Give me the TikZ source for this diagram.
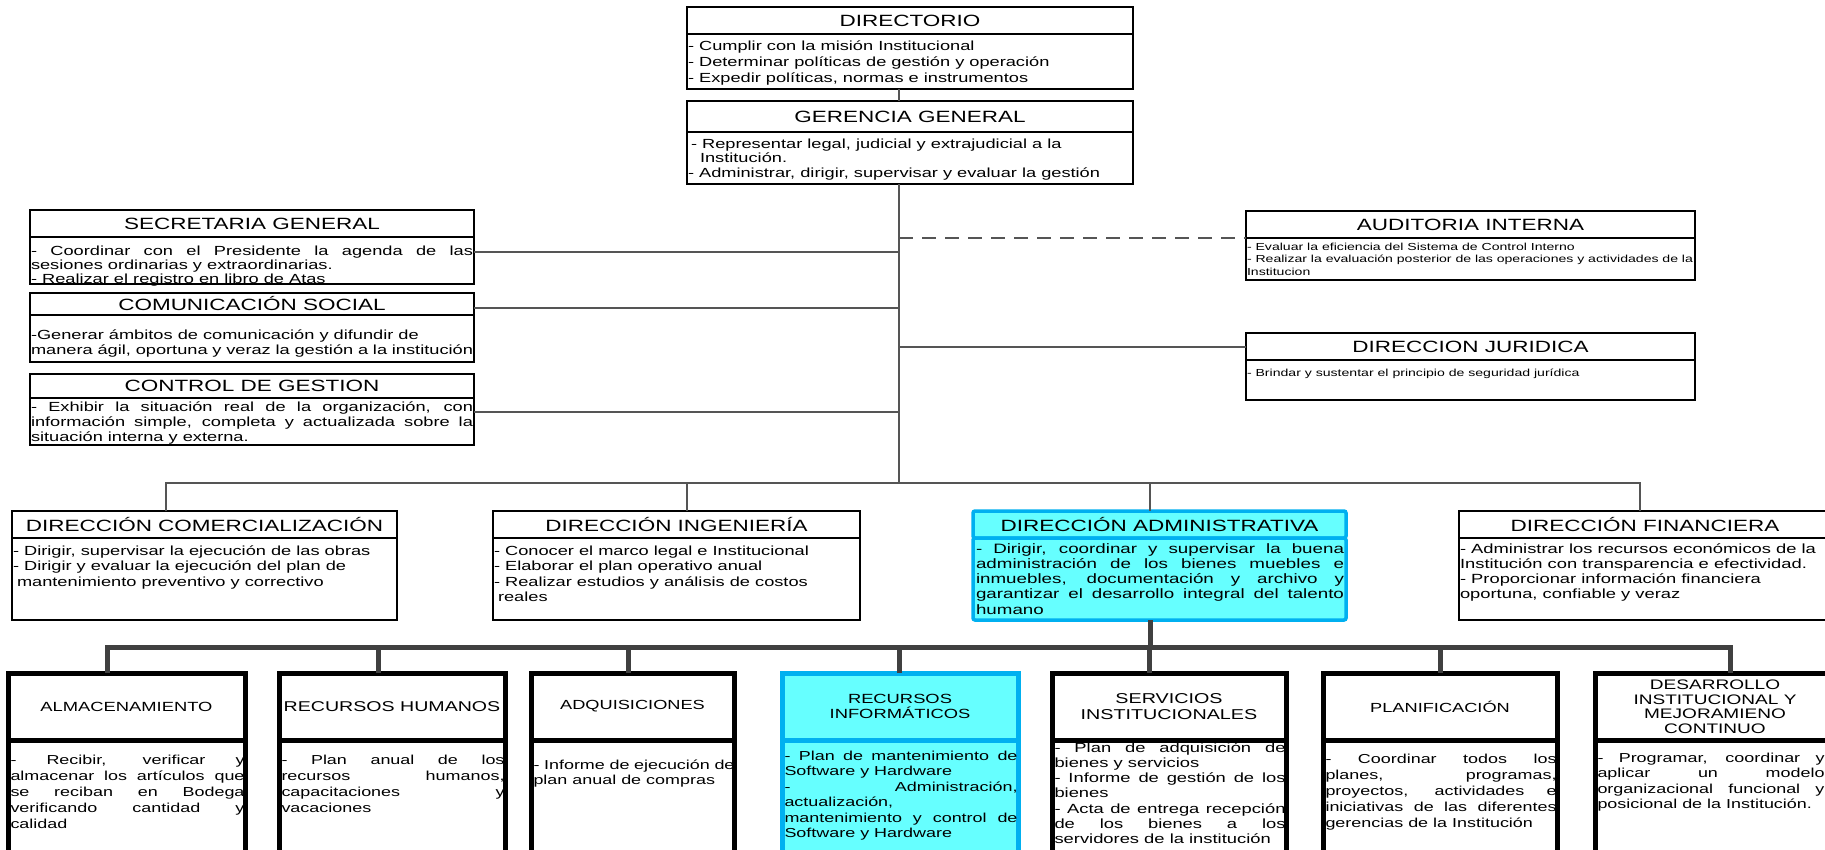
\documentclass[tikz,border=0pt]{standalone}
\usepackage{fontspec}
\setmainfont{Liberation Sans}[FakeStretch=1.38]
\usetikzlibrary{calc}
\definecolor{lineg}{HTML}{555555}
\definecolor{barc}{HTML}{404040}
\definecolor{cyanf}{HTML}{66FFFF}
\definecolor{blueb}{HTML}{00B0F0}
\newcommand\fs[2]{\fontsize{#1}{#2}\selectfont}
\newcommand\jl[1]{\hbox to\hsize{\strut#1}}
\newcommand\rl[1]{\hbox to\hsize{\strut#1\hfil}}
\newcommand\tblock[2]{\vtop{\hsize=#1pt\relax#2}}
\tikzset{
  every node/.style={inner sep=0pt, outer sep=0pt},
  frame/.style={draw=black, line width=1.1pt, fill=white, anchor=north west},
  cframe/.style={draw=blueb, line width=3.5pt, fill=cyanf, rounded corners=2pt, anchor=north west},
  bframe/.style={draw=black, line width=5pt, fill=white, anchor=north west},
  bcframe/.style={draw=blueb, line width=5pt, fill=cyanf, anchor=north west},
  ttl/.style={font=\fs{16.3}{19}},
  btl/.style={align=center},
  tx/.style={anchor=base west},
  conn/.style={draw=lineg, line width=1.6pt},
  dashconn/.style={draw=lineg, line width=1.6pt, dash pattern=on 14pt off 9pt},
  barl/.style={draw=barc, line width=5pt},
}
\begin{document}
\begin{tikzpicture}[x=1pt,y=-1pt]
\useasboundingbox (0,0) rectangle (1825,849);
\fill[white] (0,0) rectangle (1825,849);

% ---------- coordinates for connectors
\coordinate (spine) at (899,0);
\coordinate (jsec) at (899,252);
\coordinate (jcom) at (899,308);
\coordinate (jctl) at (899,412);
\coordinate (jaud) at (899,238);
\coordinate (jjur) at (899,347);
\coordinate (d1) at (166,483);
\coordinate (d2) at (687,483);
\coordinate (d3) at (1150,483);
\coordinate (d4) at (1640,483);
\coordinate (e1) at (107,647);
\coordinate (e2) at (378,647);
\coordinate (e3) at (628,647);
\coordinate (e4) at (899,647);
\coordinate (e5) at (1149,647);
\coordinate (e6) at (1440,647);
\coordinate (e7) at (1730,647);

% ---------- DIRECTORIO
\node[frame, minimum width=446pt, minimum height=27pt] (dirT) at (687,7) {};
\node[ttl] (dirL) at (dirT.center) {DIRECTORIO};
\node[frame, minimum width=446pt, minimum height=55pt] (dirB) at (687,34) {};
\node[tx, font={\fs{13.2}{16.3}}] (dirX) at (688,50) {\tblock{440}{%
\rl{- Cumplir con la misión Institucional}%
\rl{- Determinar políticas de gestión y operación}%
\rl{- Expedir políticas, normas e instrumentos}}};

% ---------- GERENCIA GENERAL
\node[frame, minimum width=446pt, minimum height=31pt] (gerT) at (687,101) {};
\node[ttl] (gerL) at (gerT.center) {GERENCIA GENERAL};
\node[frame, minimum width=446pt, minimum height=52pt] (gerB) at (687,132) {};
\node[tx, font={\fs{13.2}{14.5}}] (gerX) at (688,148) {\tblock{440}{%
\rl{\hspace{3pt}- Representar legal, judicial y extrajudicial a la}%
\rl{\hspace{12pt}Institución.}%
\rl{- Administrar, dirigir, supervisar y evaluar la gestión}}};

% ---------- SECRETARIA GENERAL
\node[frame, minimum width=444pt, minimum height=27pt] (secT) at (30,210) {};
\node[ttl] (secL) at (secT.center) {SECRETARIA GENERAL};
\node[frame, minimum width=444pt, minimum height=47pt] (secB) at (30,237) {};
\node[tx, font={\fs{13.2}{14}}] (secX) at (31,255) {\tblock{442}{%
\jl{- Coordinar con el Presidente la agenda de las}%
\rl{sesiones ordinarias y extraordinarias.}%
\rl{- Realizar el registro en libro de Atas}}};

% ---------- COMUNICACION SOCIAL
\node[frame, minimum width=444pt, minimum height=22pt] (comT) at (30,293) {};
\node[ttl] (comL) at (comT.center) {COMUNICACIÓN SOCIAL};
\node[frame, minimum width=444pt, minimum height=47pt] (comB) at (30,315) {};
\node[tx, font={\fs{13.2}{15.5}}] (comX) at (31,339) {\tblock{442}{%
\rl{-Generar ámbitos de comunicación y difundir de}%
\rl{manera ágil, oportuna y veraz la gestión a la institución}}};

% ---------- CONTROL DE GESTION
\node[frame, minimum width=444pt, minimum height=24pt] (ctlT) at (30,374) {};
\node[ttl] (ctlL) at (ctlT.center) {CONTROL DE GESTION};
\node[frame, minimum width=444pt, minimum height=47pt] (ctlB) at (30,398) {};
\node[tx, font={\fs{13.2}{15}}] (ctlX) at (31,411) {\tblock{442}{%
\jl{- Exhibir la situación real de la organización, con}%
\jl{información simple, completa y actualizada sobre la}%
\rl{situación interna y externa.}}};

% ---------- AUDITORIA INTERNA
\node[frame, minimum width=449pt, minimum height=27pt] (audT) at (1246,211) {};
\node[ttl] (audL) at (audT.center) {AUDITORIA INTERNA};
\node[frame, minimum width=449pt, minimum height=42pt] (audB) at (1246,238) {};
\node[tx, font={\fs{10.2}{12.5}}] (audX) at (1247,250) {\tblock{446}{%
\rl{- Evaluar la eficiencia del Sistema de Control Interno}%
\rl{- Realizar la evaluación posterior de las operaciones y actividades de la}%
\rl{Institucion}}};

% ---------- DIRECCION JURIDICA
\node[frame, minimum width=449pt, minimum height=27pt] (jurT) at (1246,333) {};
\node[ttl] (jurL) at (jurT.center) {DIRECCION JURIDICA};
\node[frame, minimum width=449pt, minimum height=40pt] (jurB) at (1246,360) {};
\node[tx, font={\fs{10.2}{12.5}}] (jurX) at (1247,376) {\tblock{446}{%
\rl{- Brindar y sustentar el principio de seguridad jurídica}}};

% ---------- middle row
\node[frame, minimum width=385pt, minimum height=27pt] (cmzT) at (12,511) {};
\node[ttl] (cmzL) at (cmzT.center) {DIRECCIÓN COMERCIALIZACIÓN};
\node[frame, minimum width=385pt, minimum height=82pt] (cmzB) at (12,538) {};
\node[tx, font={\fs{13.2}{15.5}}] (cmzX) at (13,555) {\tblock{380}{%
\rl{- Dirigir, supervisar la ejecución de las obras}%
\rl{- Dirigir y evaluar la ejecución del plan de}%
\rl{\hspace{4pt}mantenimiento preventivo y correctivo}}};

\node[frame, minimum width=367pt, minimum height=27pt] (ingT) at (493,511) {};
\node[ttl] (ingL) at (ingT.center) {DIRECCIÓN INGENIERÍA};
\node[frame, minimum width=367pt, minimum height=82pt] (ingB) at (493,538) {};
\node[tx, font={\fs{13.2}{15.5}}] (ingX) at (494,555) {\tblock{362}{%
\rl{- Conocer el marco legal e Institucional}%
\rl{- Elaborar el plan operativo anual}%
\rl{- Realizar estudios y análisis de costos}%
\rl{\hspace{4pt}reales}}};

\node[cframe, minimum width=373pt, minimum height=27pt] (admT) at (973,511) {};
\node[ttl] (admL) at (admT.center) {DIRECCIÓN ADMINISTRATIVA};
\node[cframe, minimum width=373pt, minimum height=82pt] (admB) at (973,538) {};
\node[tx, font={\fs{13.6}{15.3}}] (admX) at (976,553) {\tblock{368}{%
\jl{- Dirigir, coordinar y supervisar la buena}%
\jl{administración de los bienes muebles e}%
\jl{inmuebles, documentación y archivo y}%
\jl{garantizar el desarrollo integral del talento}%
\rl{humano}}};

\node[frame, minimum width=372pt, minimum height=27pt] (finT) at (1459,511) {};
\node[ttl] (finL) at (finT.center) {DIRECCIÓN FINANCIERA};
\node[frame, minimum width=372pt, minimum height=82pt] (finB) at (1459,538) {};
\node[tx, font={\fs{13.3}{15.3}}] (finX) at (1460,553) {\tblock{365}{%
\rl{- Administrar los recursos económicos de la}%
\rl{Institución con transparencia e efectividad.}%
\rl{- Proporcionar información financiera}%
\rl{oportuna, confiable y veraz}}};

% ---------- bottom row
\node[bframe, minimum width=237pt, minimum height=67pt] (almT) at (8,673) {};
\node[btl, font={\fs{13.3}{15}}] (almL) at (almT.center) {ALMACENAMIENTO};
\node[bframe, minimum width=237pt, minimum height=140pt] (almB) at (8,740) {};
\node[tx, font={\fs{13}{16}}] (almX) at (10.5,764) {\tblock{234}{%
\jl{- Recibir, verificar y}%
\jl{almacenar los artículos que}%
\jl{se reciban en Bodega}%
\jl{verificando cantidad y}%
\rl{calidad}}};

\node[bframe, minimum width=226pt, minimum height=67pt] (rhT) at (279,673) {};
\node[btl, font={\fs{14.2}{15}}] (rhL) at (rhT.center) {RECURSOS HUMANOS};
\node[bframe, minimum width=226pt, minimum height=140pt] (rhB) at (279,740) {};
\node[tx, font={\fs{13}{16}}] (rhX) at (281.5,764) {\tblock{223}{%
\jl{- Plan anual de los}%
\jl{recursos humanos,}%
\jl{capacitaciones y}%
\rl{vacaciones}}};

\node[bframe, minimum width=203pt, minimum height=67pt] (adqT) at (531,673) {};
\node[btl, font={\fs{13.2}{15}}] (adqL) at (adqT.center) {ADQUISICIONES};
\node[bframe, minimum width=203pt, minimum height=140pt] (adqB) at (531,740) {};
\node[tx, font={\fs{13}{15.5}}] (adqX) at (533.5,769) {\tblock{201}{%
\jl{- Informe de ejecución de}%
\rl{plan anual de compras}}};

\node[bcframe, minimum width=236pt, minimum height=67pt] (rinT) at (782,673) {};
\node[btl, font={\fs{13.3}{15.5}}] (rinL) at (rinT.center) {RECURSOS\\INFORMÁTICOS};
\node[bcframe, minimum width=236pt, minimum height=140pt] (rinB) at (782,740) {};
\node[tx, font={\fs{13}{15.5}}] (rinX) at (784.5,760) {\tblock{233}{%
\jl{- Plan de mantenimiento de}%
\rl{Software y Hardware}%
\jl{- Administración,}%
\rl{actualización,}%
\jl{mantenimiento y control de}%
\rl{Software y Hardware}}};

\node[bframe, minimum width=234pt, minimum height=67pt] (srvT) at (1052,673) {};
\node[btl, font={\fs{14.3}{15.5}}] (srvL) at (srvT.center) {SERVICIOS\\INSTITUCIONALES};
\node[bframe, minimum width=234pt, minimum height=140pt] (srvB) at (1052,740) {};
\node[tx, font={\fs{13.3}{15.3}}] (srvX) at (1054.5,752) {\tblock{231}{%
\jl{- Plan de adquisición de}%
\rl{bienes y servicios}%
\jl{- Informe de gestión de los}%
\rl{bienes}%
\jl{- Acta de entrega recepción}%
\jl{de los bienes a los}%
\rl{servidores de la institución}}};

\node[bframe, minimum width=234pt, minimum height=67pt] (plaT) at (1323,673) {};
\node[btl, font={\fs{13.2}{15}}] (plaL) at (plaT.center) {PLANIFICACIÓN};
\node[bframe, minimum width=234pt, minimum height=140pt] (plaB) at (1323,740) {};
\node[tx, font={\fs{13}{16.2}}] (plaX) at (1325.5,763) {\tblock{231}{%
\jl{- Coordinar todos los}%
\jl{planes, programas,}%
\jl{proyectos, actividades e}%
\jl{iniciativas de las diferentes}%
\rl{gerencias de la Institución}}};

\node[bframe, minimum width=240pt, minimum height=67pt] (desT) at (1595,673) {};
\node[btl, font={\fs{13.8}{14.5}}] (desL) at (desT.center) {DESARROLLO\\INSTITUCIONAL Y\\MEJORAMIENO\\CONTINUO};
\node[bframe, minimum width=240pt, minimum height=140pt] (desB) at (1595,740) {};
\node[tx, font={\fs{13}{15.5}}] (desX) at (1597.5,762) {\tblock{227}{%
\jl{- Programar, coordinar y}%
\jl{aplicar un modelo}%
\jl{organizacional funcional y}%
\rl{posicional de la Institución.}}};

% ---------- connectors (upper part)
\draw[conn] (dirB.south -| spine) -- (gerT.north -| spine);
\draw[conn] (gerB.south -| spine) -- (spine |- d1);
\draw[conn] (jsec -| secB.east) -- (jsec);
\draw[conn] (jcom -| comT.east) -- (jcom);
\draw[conn] (jctl -| ctlB.east) -- (jctl);
\draw[dashconn] (jaud) -- (jaud -| audT.west);
\draw[conn] (jjur) -- (jjur -| jurT.west);
\draw[conn] (d1 |- cmzT.north) -- (d1) -- (d4) -- (d4 |- finT.north);
\draw[conn] (d2) -- (d2 |- ingT.north);
\draw[conn] (d3) -- (d3 |- admT.north);

% ---------- connectors (lower part)
\draw[barl] (d3 |- admB.south) -- (d3 |- e1);
\draw[barl] (e1 |- almT.north) -- (e1) -- (e7) -- (e7 |- desT.north);
\draw[barl] (e2) -- (e2 |- rhT.north);
\draw[barl] (e3) -- (e3 |- adqT.north);
\draw[barl] (e4) -- (e4 |- rinT.north);
\draw[barl] (e5) -- (e5 |- srvT.north);
\draw[barl] (e6) -- (e6 |- plaT.north);
\end{tikzpicture}
\end{document}
